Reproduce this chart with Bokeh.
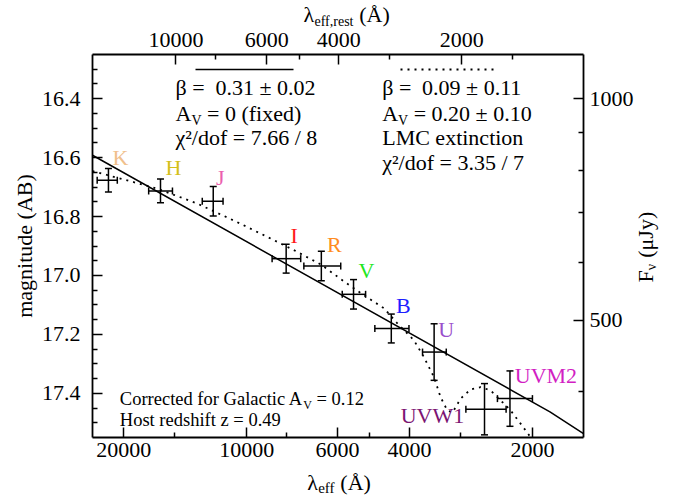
import math
from bokeh.plotting import figure
from bokeh.models import (Range1d, LogScale, LogAxis, FixedTicker, PrintfTickFormatter,
                          Label, LabelSet, Arrow, Whisker, TeeHead, ColumnDataSource)
from bokeh.core.properties import value
from bokeh.embed import file_html
from bokeh.resources import INLINE

# ---------------- data ----------------
bands = ["K", "H", "J", "I", "R", "V", "B", "U", "UVW1", "UVM2"]
wave_eff = [21800, 16260, 12080, 8010, 6570, 5480, 4430, 3480, 2620, 2270]      # observed, Angstrom
wave_lo = [20740, 15200, 11430, 7380, 5890, 5120, 4010, 3250, 2320, 2000]
wave_hi = [23230, 17380, 12850, 8670, 7250, 5840, 4860, 3715, 2910, 2436]
mag_ab = [16.677, 16.713, 16.748, 16.943, 16.968, 17.064, 17.180, 17.260, 17.454, 17.418]
mag_err = [0.040, 0.040, 0.050, 0.049, 0.050, 0.050, 0.049, 0.096, 0.087, 0.094]
band_colors = ["#F0C08C", "#D4C01A", "#EB5FAE", "#FF1A1A", "#FF8C1E",
               "#1EE61E", "#1E1EFF", "#9A50CC", "#7C1472", "#D21EC3"]

# power-law fit, A_V = 0 (solid)
pl_wave = [23850, 1812, 1500]
pl_mag = [16.592, 17.463, 17.537]

# power law + LMC extinction fit (dotted)
lmc_wave = [23850, 20380, 16570, 13220, 10550, 8910, 7670, 6600, 5785, 5170, 4620,
            4280, 3900, 3686, 3483, 3356, 3231, 3136, 2998, 2834, 2678, 2532,
            2392, 2262, 2138, 2021]
lmc_mag = [16.646, 16.671, 16.705, 16.756, 16.819, 16.869, 16.914, 16.962, 17.020, 17.067,
           17.111, 17.163, 17.220, 17.277, 17.345, 17.413, 17.458, 17.465, 17.418, 17.387,
           17.379, 17.390, 17.424, 17.458, 17.503, 17.549]

bottom_ticks = [20000, 10000, 6000, 4000, 2000]
bottom_minor = [15000, 8000, 5000, 3000]
top_ticks = [10000, 6000, 4000, 2000]
top_minor = [8000, 5000, 3000, 1500]
left_ticks = [16.4, 16.6, 16.8, 17.0, 17.2, 17.4]
right_ticks = [1000, 500]
right_minor = [900, 800, 700, 600, 400]

z_host = 0.49

# ---------------- layout / style ----------------
W_PX, H_PX = 676, 497
BOX_L, BOX_R, BOX_T, BOX_B = 92, 583, 54, 437      # plot box in canvas pixels
FONT = "Liberation Serif"
X_MIN, X_MAX = 23850, 1500        # observed wavelength at box left / right
Y_TOP, Y_BOT = 16.25, 17.55       # magnitude at box top / bottom
MID = 0.3375                      # em-box middle above the alphabetic baseline
DOTS = "2 5"

# band-name offsets (screen px, y up)
label_dx = [12, 13, 7, 8, 13, 13, 12, 12, -52, 36]
label_dy = [23, 23, 24, 23, 22, 24, 23, 23, -6, 23]


def ab_to_ujy(m):
    return 10 ** ((23.9 - m) / 2.5)


# the frame covers the whole canvas; the box is drawn by axes at fixed locations
lx0, lx1 = math.log10(X_MIN), math.log10(X_MAX)
ppd = (BOX_R - BOX_L) / (lx0 - lx1)
x_start = 10 ** (lx0 + BOX_L / ppd)
x_end = 10 ** (lx1 - (W_PX - BOX_R) / ppd)
ppm = (BOX_B - BOX_T) / (Y_BOT - Y_TOP)
y_start = Y_BOT + (H_PX - BOX_B) / ppm
y_end = Y_TOP - BOX_T / ppm

p = figure(width=W_PX, height=H_PX, x_axis_type="log",
           x_range=Range1d(x_start, x_end), y_range=Range1d(y_start, y_end),
           output_backend="svg", toolbar_location=None, title=None, min_border=0)
p.background_fill_color = "white"
p.border_fill_color = "white"
p.outline_line_color = None
p.xgrid.visible = False
p.ygrid.visible = False

p.extra_x_ranges = {"rest": Range1d(x_start / (1 + z_host), x_end / (1 + z_host))}
p.extra_x_scales = {"rest": LogScale()}
p.extra_y_ranges = {"flux": Range1d(ab_to_ujy(y_start), ab_to_ujy(y_end))}
p.extra_y_scales = {"flux": LogScale()}

bottom_axis = p.xaxis[0]
left_axis = p.yaxis[0]
top_axis = LogAxis(x_range_name="rest")
right_axis = LogAxis(y_range_name="flux")
p.add_layout(top_axis, "above")
p.add_layout(right_axis, "right")

bottom_axis.fixed_location = Y_BOT
bottom_axis.bounds = (X_MAX, X_MIN)
top_axis.fixed_location = Y_TOP
top_axis.bounds = (X_MAX / (1 + z_host), X_MIN / (1 + z_host))
left_axis.fixed_location = X_MIN
left_axis.bounds = (Y_TOP, Y_BOT)
right_axis.fixed_location = X_MAX
right_axis.bounds = (ab_to_ujy(Y_BOT), ab_to_ujy(Y_TOP))

bottom_axis.ticker = FixedTicker(ticks=bottom_ticks, minor_ticks=bottom_minor)
bottom_axis.formatter = PrintfTickFormatter(format="%d")
top_axis.ticker = FixedTicker(ticks=top_ticks, minor_ticks=top_minor)
top_axis.formatter = PrintfTickFormatter(format="%d")
left_minor = [round(Y_TOP + 0.05 * k, 2) for k in range(1, 26)]
left_minor = [t for t in left_minor if t not in left_ticks]
left_axis.ticker = FixedTicker(ticks=left_ticks, minor_ticks=left_minor)
left_axis.formatter = PrintfTickFormatter(format="%.1f")
right_axis.ticker = FixedTicker(ticks=right_ticks, minor_ticks=right_minor)
right_axis.formatter = PrintfTickFormatter(format="%d")

for ax in (bottom_axis, top_axis, left_axis, right_axis):
    ax.major_tick_in = 10
    ax.major_tick_out = 0
    ax.minor_tick_in = 5
    ax.minor_tick_out = 0
    ax.major_tick_line_width = 1.5
    ax.minor_tick_line_width = 1.5
    ax.major_tick_line_color = "black"
    ax.minor_tick_line_color = "black"
    ax.axis_line_color = "black"
    ax.axis_line_width = 1.8
    ax.major_label_text_font = FONT
    ax.major_label_text_font_size = "22px"
    ax.major_label_text_color = "black"
    ax.axis_label = None
bottom_axis.major_label_standoff = 5
top_axis.major_label_standoff = 8
left_axis.major_label_standoff = 12
right_axis.major_label_standoff = 6

# ---------------- model curves ----------------
p.line(pl_wave, pl_mag, line_color="black", line_width=1.5)
p.line(lmc_wave, lmc_mag, line_color="black", line_width=1.8, line_dash=DOTS)

# ---------------- data points ----------------
src = ColumnDataSource(dict(
    band=bands, wave=wave_eff, wlo=wave_lo, whi=wave_hi, mag=mag_ab,
    mlo=[m - e for m, e in zip(mag_ab, mag_err)],
    mhi=[m + e for m, e in zip(mag_ab, mag_err)],
    color=band_colors, dx=label_dx, dy=label_dy))

p.add_layout(Whisker(source=src, base="wave", lower="mlo", upper="mhi", dimension="height",
                     line_color="black", line_width=1.5,
                     upper_head=TeeHead(size=7, line_width=1.5, line_color="black"),
                     lower_head=TeeHead(size=7, line_width=1.5, line_color="black")))
p.add_layout(Whisker(source=src, base="mag", lower="wlo", upper="whi", dimension="width",
                     line_color="black", line_width=1.5,
                     upper_head=TeeHead(size=7, line_width=1.5, line_color="black"),
                     lower_head=TeeHead(size=7, line_width=1.5, line_color="black")))

p.add_layout(LabelSet(source=src, x="wave", y="mag", text="band", x_offset="dx", y_offset="dy",
                      text_color="color", text_font=value(FONT), text_font_size=value("22px"),
                      text_align="center", text_baseline="middle"))

# ---------------- free text ----------------
CW = {' ': 250, '(': 333, ')': 333, '.': 250, ',': 250, '/': 278, '=': 564, '±': 549,
      'A': 722, 'B': 667, 'C': 667, 'F': 556, 'G': 722, 'H': 722, 'J': 389, 'L': 611, 'M': 889,
      'V': 722, 'Å': 722, 'a': 444, 'c': 444, 'd': 500, 'e': 444, 'f': 333, 'g': 500,
      'h': 500, 'i': 278, 'l': 278, 'm': 778, 'n': 500, 'o': 500, 'r': 333, 's': 389,
      't': 278, 'u': 500, 'x': 500, 'y': 500, 'z': 444, '²': 300}


def text_w(s, size):
    return sum(CW.get(c, 500) for c in s) * size / 1000.0


def put(cx, cy, text, size, angle=0.0, align="left", color="black"):
    # cx, cy: canvas pixels of the em-box middle of the text start
    p.add_layout(Label(x=cx, y=H_PX - cy, x_units="screen", y_units="screen",
                       text=text, text_font=FONT, text_font_size=f"{size}px",
                       text_color=color, angle=angle, text_align=align,
                       text_baseline="middle"))


def put_runs(cx, base, runs, vertical=False):
    # base: canvas position of the alphabetic baseline (y, or x when vertical)
    pos = 0.0
    for txt, size, shift in runs:
        stripped = txt.lstrip(" ")
        pos += text_w(txt[:len(txt) - len(stripped)], size)
        if vertical:
            put(base + shift - MID * size, cx - pos, stripped, size, angle=math.pi / 2)
        else:
            put(cx + pos, base + shift - MID * size, stripped, size)
        pos += text_w(stripped, size)


# legend line samples
p.add_layout(Arrow(end=None, x_start=195, y_start=H_PX - 69, x_end=293, y_end=H_PX - 69,
                   start_units="screen", end_units="screen", line_width=1.5, line_color="black"))
p.add_layout(Arrow(end=None, x_start=400, y_start=H_PX - 69, x_end=495, y_end=H_PX - 69,
                   start_units="screen", end_units="screen", line_width=1.8, line_color="black",
                   line_dash=DOTS))

put_runs(175, 94, [("β =", 22, 0), ("  0.31 ± 0.02", 22, 0)])
put_runs(175, 120.5, [("A", 22, 0), ("V", 14, 4), (" = 0 (fixed)", 22, 0)])
put_runs(175, 144.5, [("χ²/dof = 7.66 / 8", 22, 0)])

put_runs(381.7, 94, [("β =", 22, 0), ("  0.09 ± 0.11", 22, 0)])
put_runs(381.7, 120.5, [("A", 22, 0), ("V", 14, 4), (" = 0.20 ± 0.10", 22, 0)])
put_runs(381.7, 144.5, [("LMC extinction", 22, 0)])
put_runs(381.7, 169.5, [("χ²/dof = 3.35 / 7", 22, 0)])

put_runs(119.3, 405, [("Corrected for Galactic A", 18.5, 0), ("V", 12, 3.5), (" = 0.12", 18.5, 0)])
put_runs(119.3, 426, [("Host redshift z = 0.49", 18.5, 0)])

# axis titles
put_runs(306.7, 489.5, [("λ", 22, 0), ("eff", 15, 3.5), (" (Å)", 22, 0)])
put_runs(303, 21, [("λ", 22, 0), ("eff,rest", 14, 4.5), (" (Å)", 22, 0)])
put(24, 245.5, "magnitude (AB)", 22, angle=math.pi / 2, align="center")
put_runs(282, 652, [("F", 22, 0), ("ν", 14, 4), (" (μJy)", 22, 0)], vertical=True)

open("out.html", "w").write(file_html(p, INLINE))
